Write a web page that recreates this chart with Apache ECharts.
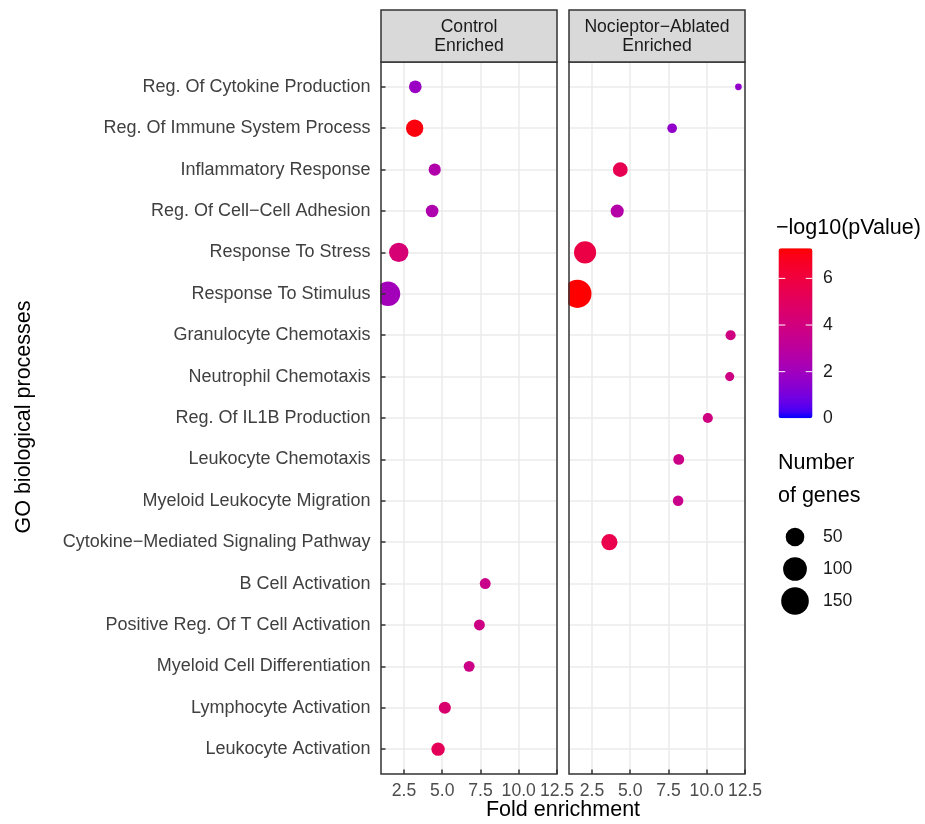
<!DOCTYPE html>
<html><head><meta charset="utf-8">
<script src="https://cdn.jsdelivr.net/npm/echarts@6/dist/echarts.min.js"></script>
<style>html,body{margin:0;padding:0;background:#fff}#c{width:925px;height:824px}</style>
</head><body><div id="c"></div>
<script>
// ---------- data ----------
const categories = [
  'Reg. Of Cytokine Production',
  'Reg. Of Immune System Process',
  'Inflammatory Response',
  'Reg. Of Cell\u2212Cell Adhesion',
  'Response To Stress',
  'Response To Stimulus',
  'Granulocyte Chemotaxis',
  'Neutrophil Chemotaxis',
  'Reg. Of IL1B Production',
  'Leukocyte Chemotaxis',
  'Myeloid Leukocyte Migration',
  'Cytokine\u2212Mediated Signaling Pathway',
  'B Cell Activation',
  'Positive Reg. Of T Cell Activation',
  'Myeloid Cell Differentiation',
  'Lymphocyte Activation',
  'Leukocyte Activation'
];
const panelTitles = ['Control\nEnriched', 'Nocieptor\u2212Ablated\nEnriched'];

const controlRows  = [0, 1, 2, 3, 4, 5, 12, 13, 14, 15, 16];
const controlFold  = [3.24, 3.20, 4.51, 4.34, 2.16, 1.46, 7.81, 7.43, 6.76, 5.17, 4.73];
const controlGenes = [14, 40, 12, 14, 56, 108, 8, 8, 8, 12, 17];
const controlLogP  = [1.8, 7.1, 2.6, 2.5, 4.3, 2.1, 3.6, 3.8, 3.7, 4.5, 5.2];

const ablatedRows  = [0, 1, 2, 3, 4, 5, 6, 7, 8, 9, 10, 11];
const ablatedFold  = [12.07, 7.74, 4.35, 4.15, 2.05, 1.55, 11.56, 11.50, 10.07, 8.17, 8.13, 3.64];
const ablatedGenes = [2, 5, 24, 16, 82, 158, 6, 4, 6, 8, 7, 32];
const ablatedLogP  = [1.6, 1.6, 5.4, 2.7, 5.8, 7.29, 3.9, 3.8, 3.9, 3.7, 3.6, 5.6];

const xTicks = [2.5, 5, 7.5, 10, 12.5];
const xGrid = [2.5, 5, 7.5, 10];
const xMin = 1.0, xMax = 12.5;
const colorTicks = [0, 2, 4, 6];
const colorMin = 0, colorMax = 7.29;
const sizeBreaks = [50, 100, 150];

// ---------- styling helpers ----------
const FONT = '"Liberation Sans", Arial, Helvetica, sans-serif';
const rows = categories.map((_, i) => i);
const allGenes = controlGenes.concat(ablatedGenes);
const nMin = Math.min(...allGenes), nMax = Math.max(...allGenes);
function sizePx(n) {
  const t = Math.max(0, (n - nMin) / (nMax - nMin));
  return 2.4 + 4.3 * (1 + 5 * Math.sqrt(t));
}
// Lab interpolation like ggplot2
function s2l(c){c/=255;return c<=0.04045?c/12.92:Math.pow((c+0.055)/1.055,2.4);}
function l2s(c){c=c<=0.0031308?12.92*c:1.055*Math.pow(c,1/2.4)-0.055;return Math.max(0,Math.min(255,Math.round(c*255)));}
const Xn=0.95047,Yn=1,Zn=1.08883;
function fLab(t){return t>0.008856?Math.cbrt(t):7.787*t+16/116;}
function fInv(t){const t3=t*t*t;return t3>0.008856?t3:(t-16/116)/7.787;}
function rgb2lab(r,g,b){
  r=s2l(r);g=s2l(g);b=s2l(b);
  const X=0.4124564*r+0.3575761*g+0.1804375*b;
  const Y=0.2126729*r+0.7151522*g+0.0721750*b;
  const Z=0.0193339*r+0.1191920*g+0.9503041*b;
  const fx=fLab(X/Xn),fy=fLab(Y/Yn),fz=fLab(Z/Zn);
  return [116*fy-16,500*(fx-fy),200*(fy-fz)];
}
function lab2rgb(L,a,b){
  const fy=(L+16)/116,fx=fy+a/500,fz=fy-b/200;
  const X=Xn*fInv(fx),Y=Yn*fInv(fy),Z=Zn*fInv(fz);
  const r=3.2404542*X-1.5371385*Y-0.4985314*Z;
  const g=-0.9692660*X+1.8760108*Y+0.0415560*Z;
  const bb=0.0556434*X-0.2040259*Y+1.0572252*Z;
  return 'rgb('+l2s(r)+','+l2s(g)+','+l2s(bb)+')';
}
const labLow = rgb2lab(0,0,255), labHigh = rgb2lab(255,0,0);
const colorStops = [];
for (let i = 0; i <= 24; i++) {
  const t = i / 24;
  colorStops.push(lab2rgb(labLow[0]+(labHigh[0]-labLow[0])*t, labLow[1]+(labHigh[1]-labLow[1])*t, labLow[2]+(labHigh[2]-labLow[2])*t));
}

const controlData = controlRows.map((r, i) => [controlFold[i], r, controlGenes[i], controlLogP[i]]);
const ablatedData = ablatedRows.map((r, i) => [ablatedFold[i], r, ablatedGenes[i], ablatedLogP[i]]);

// ---------- layout ----------
const gLeft = [381, 569], gTop = 62, gW = 176, gH = 712;
const cbLeft = 778.5, cbTop = 248.3, cbW = 34, cbH = 170;
const tickStyle = {color: '#333', width: 1.5};
const gridLineStyle = {color: '#EBEBEB', width: 1.5};

const xAxes = [], yAxes = [], grids = [];
for (let p = 0; p < 2; p++) {
  grids.push({left: gLeft[p], top: gTop, width: gW, height: gH, show: true,
    backgroundColor: 'transparent', borderColor: '#333', borderWidth: 1.5, z: 10,
    containLabel: false, outerBoundsMode: 'none'});
  xAxes.push({gridIndex: p, type: 'value', min: xMin, max: xMax, position: 'bottom', z: 12,
    axisLine: {show: false, onZero: false},
    axisTick: {show: true, inside: true, length: 4.5, customValues: xTicks, lineStyle: tickStyle},
    axisLabel: {show: true, customValues: xTicks, formatter: v => Number(v).toFixed(1),
      color: '#4D4D4D', fontSize: 17.6, fontFamily: FONT, margin: 8},
    splitLine: {show: false}});
  xAxes.push({gridIndex: p, type: 'value', min: xMin, max: xMax, position: 'top', z: 0,
    axisLine: {show: false, onZero: false}, axisTick: {show: false, customValues: xGrid},
    axisLabel: {show: false}, splitLine: {show: true, lineStyle: gridLineStyle}});
}
yAxes.push({gridIndex: 0, type: 'value', inverse: true, min: -0.6, max: 16.6, position: 'left', z: 12,
  axisLine: {show: false, onZero: false},
  axisTick: {show: true, inside: true, length: 4.5, customValues: rows, lineStyle: tickStyle},
  axisLabel: {show: true, customValues: rows, formatter: v => categories[Math.round(v)],
    color: '#404040', fontSize: 18, fontFamily: FONT, margin: 10.5},
  splitLine: {show: false}});
yAxes.push({gridIndex: 0, type: 'value', inverse: true, min: -0.6, max: 16.6, position: 'right', z: 0,
  axisLine: {show: false, onZero: false}, axisTick: {show: false, customValues: rows},
  axisLabel: {show: false}, splitLine: {show: true, lineStyle: gridLineStyle}});
yAxes.push({gridIndex: 1, type: 'value', inverse: true, min: -0.6, max: 16.6, position: 'left', z: 0,
  axisLine: {show: false, onZero: false}, axisTick: {show: false, customValues: rows},
  axisLabel: {show: false}, splitLine: {show: true, lineStyle: gridLineStyle}});

function txt(text, x, y, size, opts) {
  opts = opts || {};
  return {type: 'text', x: x, y: y, z: 20, rotation: opts.rotation || 0, silent: true,
    style: {text: text, fill: opts.color || '#000', font: size + 'px ' + FONT,
      textAlign: opts.align || 'left', textVerticalAlign: 'middle',
      align: opts.align || 'left', verticalAlign: 'middle', lineHeight: opts.lineHeight || size}};
}
const graphics = [];
// strips
for (let p = 0; p < 2; p++) {
  graphics.push({type: 'rect', z: 20, silent: true, shape: {x: gLeft[p], y: 10, width: gW, height: 52},
    style: {fill: '#D9D9D9', stroke: '#333', lineWidth: 1.5}});
  graphics.push(txt(panelTitles[p], gLeft[p] + gW / 2, 36.5, 17.6, {align: 'center', color: '#1A1A1A', lineHeight: 19.5}));
}
// clip masks (points outside panels)
graphics.push({type: 'rect', z: 9, silent: true, shape: {x: gLeft[0] + gW + 0.8, y: gTop, width: gLeft[1] - gLeft[0] - gW - 1.6, height: gH}, style: {fill: '#fff'}});
graphics.push({type: 'rect', z: 9, silent: true, shape: {x: gLeft[0] - 10, y: gTop, width: 9.2, height: gH}, style: {fill: '#fff'}});
// axis titles
graphics.push(txt('Fold enrichment', (gLeft[0] + gLeft[1] + gW) / 2, 810, 21.5, {align: 'center'}));
graphics.push(txt('GO biological processes', 24, 417, 21.5, {align: 'center', rotation: Math.PI / 2}));
// color legend
graphics.push(txt('\u2212log10(pValue)', 776, 228, 21.5));
colorTicks.forEach(v => {
  const y = cbTop + cbH - (v - colorMin) / (colorMax - colorMin) * cbH;
  graphics.push(txt(String(v), 823, y, 17.6, {color: '#1A1A1A'}));
  if (v > colorMin) {
    graphics.push({type: 'line', z: 20, silent: true, shape: {x1: cbLeft, y1: y, x2: cbLeft + cbW / 5, y2: y}, style: {stroke: '#fff', lineWidth: 1}});
    graphics.push({type: 'line', z: 20, silent: true, shape: {x1: cbLeft + cbW - cbW / 5, y1: y, x2: cbLeft + cbW, y2: y}, style: {stroke: '#fff', lineWidth: 1}});
  }
});
// size legend
graphics.push(txt('Number', 778, 463, 21.5));
graphics.push(txt('of genes', 778, 496, 21.5));
const sizeY = [537, 569, 601];
sizeBreaks.forEach((n, i) => {
  graphics.push({type: 'circle', z: 20, silent: true, shape: {cx: 795, cy: sizeY[i], r: sizePx(n) / 2}, style: {fill: '#000'}});
  graphics.push(txt(String(n), 823, sizeY[i], 17.6, {color: '#1A1A1A'}));
});

const option = {
  animation: false,
  backgroundColor: '#fff',
  textStyle: {fontFamily: FONT},
  grid: grids,
  xAxis: xAxes,
  yAxis: yAxes,
  visualMap: {
    type: 'continuous', min: colorMin, max: colorMax, dimension: 3, seriesIndex: [0, 1],
    inRange: {color: colorStops}, itemWidth: cbW, itemHeight: cbH,
    left: cbLeft, top: cbTop, padding: 0, calculable: false, showLabel: false,
    hoverLink: false, realtime: false, orient: 'vertical'
  },
  series: [
    {type: 'scatter', xAxisIndex: 0, yAxisIndex: 0, data: controlData, z: 2, silent: true,
     symbol: 'circle', symbolSize: v => sizePx(v[2]), itemStyle: {opacity: 1}},
    {type: 'scatter', xAxisIndex: 2, yAxisIndex: 2, data: ablatedData, z: 2, silent: true,
     symbol: 'circle', symbolSize: v => sizePx(v[2]), itemStyle: {opacity: 1}}
  ],
  graphic: {elements: graphics}
};
const chart = echarts.init(document.getElementById('c'), null, {renderer: 'canvas'});
chart.setOption(option);
</script>
</body></html>
